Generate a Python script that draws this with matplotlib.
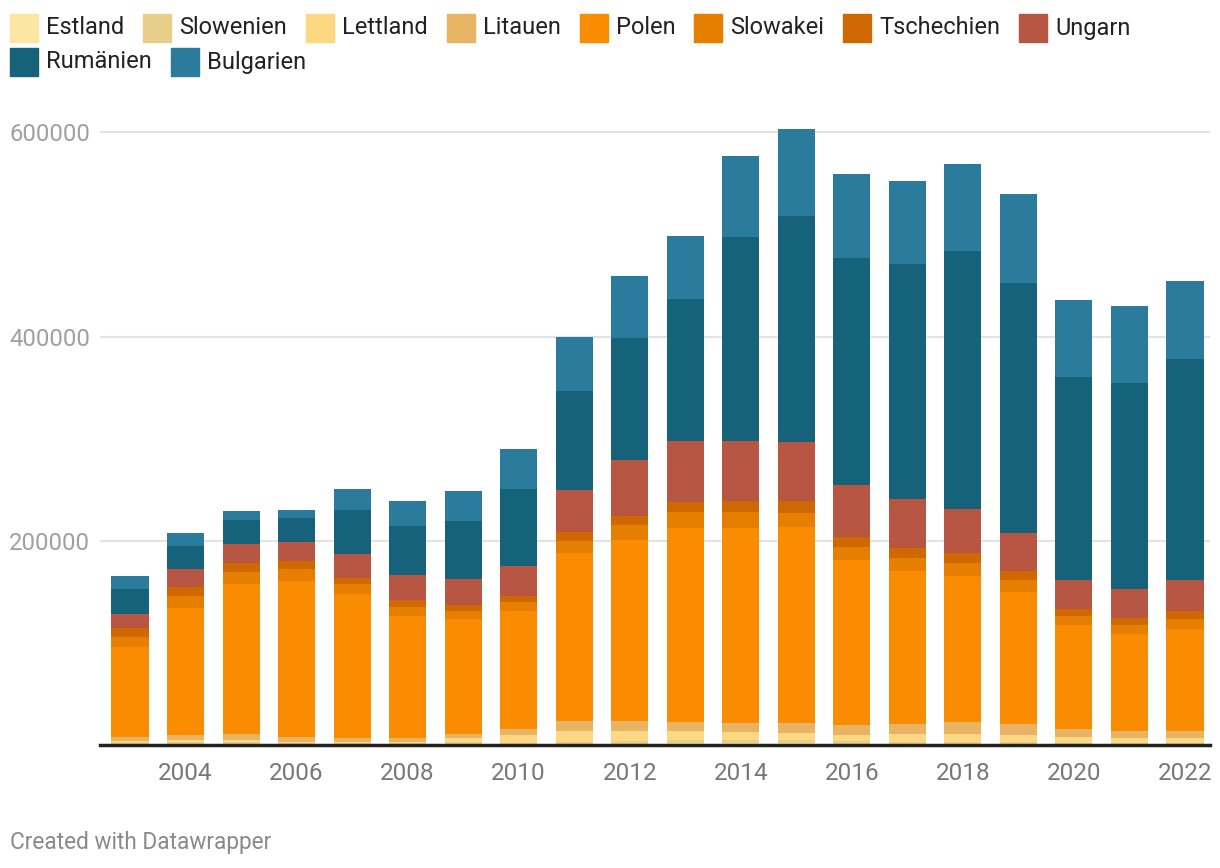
import matplotlib
matplotlib.use("Agg")
import matplotlib.pyplot as plt
from matplotlib.patches import Rectangle
import numpy as np

years = list(range(2003, 2023))
series_names = ["Estland", "Slowenien", "Lettland", "Litauen", "Polen",
                "Slowakei", "Tschechien", "Ungarn", "Rumänien", "Bulgarien"]
colors = ["#fde5a2", "#e7cf8b", "#fdd882", "#e8b464", "#f98c00",
          "#e67e00", "#cf6800", "#b75642", "#16627b", "#2b7b9d"]

estland    = [1000, 1100, 1000, 500, 500, 500, 1000, 1000, 1000, 1300, 1600, 1600, 1600, 1000, 600, 600, 600, 700, 700, 700]
slowenien  = [1500, 1800, 2000, 1000, 1000, 1000, 2000, 1000, 2000, 2600, 3300, 3300, 3600, 3300, 2600, 2600, 2600, 1300, 1300, 1300]
lettland   = [1500, 2000, 2000, 1400, 1400, 1400, 3900, 7800, 10800, 9800, 8800, 7800, 6900, 5900, 7800, 7800, 6900, 5900, 4900, 4900]
litauen    = [3900, 4900, 5900, 4900, 3900, 3900, 3900, 5900, 9800, 9800, 8800, 8800, 9800, 9800, 9800, 11800, 10800, 7800, 6900, 6900]
polen      = [88300, 124500, 147000, 153000, 141200, 119600, 112800, 115700, 164800, 177500, 190300, 191300, 191300, 160900, 150100, 143200, 128500, 102000, 95100, 100000]
slowakei   = [9800, 11800, 11800, 11800, 9800, 8800, 7800, 8800, 11800, 14700, 15700, 15700, 13700, 12700, 11800, 11800, 12700, 8800, 8800, 9800]
tschechien = [8800, 8800, 8800, 7800, 5900, 6900, 5900, 5900, 8800, 8800, 9800, 10800, 11800, 9800, 9800, 9800, 8800, 6900, 6900, 7800]
ungarn     = [13700, 17600, 18600, 18600, 23500, 24500, 25500, 29400, 41200, 54900, 59800, 58800, 57800, 51000, 48000, 43100, 36300, 28400, 28400, 30400]
rumaenien  = [24500, 22500, 23500, 23500, 43100, 48000, 56800, 75500, 97000, 119600, 139200, 199000, 221500, 222500, 230300, 252800, 245000, 199000, 201900, 216600]
bulgarien  = [12700, 12700, 8800, 7800, 20600, 24500, 29400, 39200, 52900, 60800, 60800, 79400, 85300, 82300, 81300, 85300, 87200, 75500, 75500, 76400]

series = [estland, slowenien, lettland, litauen, polen,
          slowakei, tschechien, ungarn, rumaenien, bulgarien]

ytick_vals = [200000, 400000, 600000]
xtick_vals = list(range(2004, 2023, 2))

FONT = ["Roboto", "DejaVu Sans"]
plt.rcParams["font.family"] = FONT

W, H = 1220, 868
fig = plt.figure(figsize=(W / 100, H / 100), dpi=100)
ax = fig.add_axes([100 / W, (H - 745) / H, 1110 / W, (745 - 112) / H])

bottom = np.zeros(len(years))
for name, vals, col in zip(series_names, series, colors):
    v = np.array(vals, dtype=float)
    ax.bar(years, v, bottom=bottom, width=0.667, color=col, zorder=3,
           linewidth=0, label=name)
    bottom += v

ax.set_xlim(2002.46, 2022.45)
ax.set_ylim(0, 620000)

for s in ["top", "right", "left"]:
    ax.spines[s].set_visible(False)
ax.spines["bottom"].set_color("#222222")
ax.spines["bottom"].set_linewidth(2.5)
ax.spines["bottom"].set_zorder(5)

ax.set_yticks(ytick_vals)
ax.set_yticklabels([str(v) for v in ytick_vals])
ax.yaxis.grid(True, color="#e3e3e3", linewidth=1.5, zorder=0)
ax.tick_params(axis="y", length=0, pad=7.2, labelsize=17.2, labelcolor="#a0a0a0")

ax.set_xticks(xtick_vals)
ax.set_xticklabels([str(v) for v in xtick_vals])
ax.tick_params(axis="x", length=0, pad=12, labelsize=17.5, labelcolor="#777777")

# Legend (flowing layout, datawrapper style)
fig.canvas.draw()
renderer = fig.canvas.get_renderer()
x0 = 10
x = x0
row_y = [28, 62]
row = 0
sq = 28
max_x = 1215
for name, col in zip(series_names, colors):
    t = fig.text(0, 0, name, fontsize=17.0, color="#222222", va="center",
                 ha="left", family=FONT)
    w = t.get_window_extent(renderer=renderer).width
    item_w = sq + 8 + w
    if x + item_w > max_x:
        row += 1
        x = x0
    yc = row_y[row]
    fig.patches.append(Rectangle((x / W, (H - yc - sq / 2) / H), sq / W, sq / H,
                                 transform=fig.transFigure, color=col, zorder=3))
    t.set_position(((x + sq + 8) / W, (H - yc) / H))
    x += item_w + 19

fig.text(10 / W, (H - 843) / H, "Created with Datawrapper", fontsize=16.3,
         color="#8a8a8a", va="center", ha="left", family=FONT)

fig.savefig("out.png", dpi=100, facecolor="white")
